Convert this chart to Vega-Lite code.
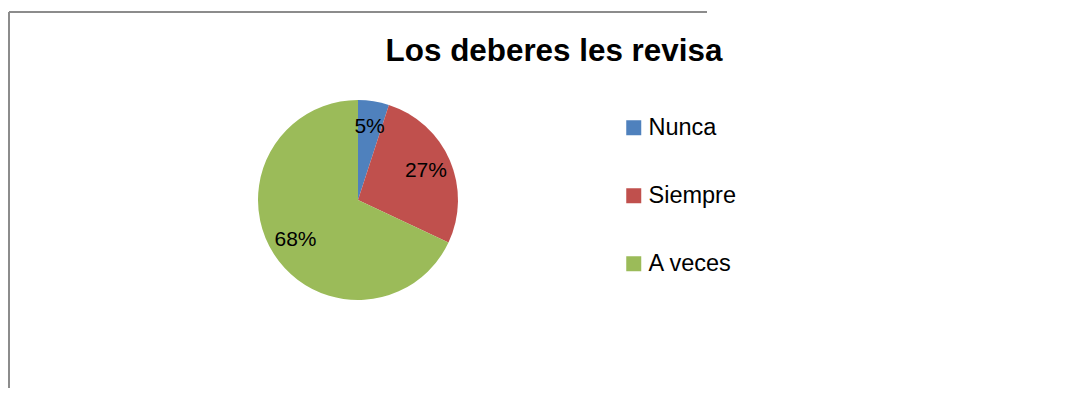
{
  "$schema": "https://vega.github.io/schema/vega-lite/v6.json",
  "width": 698,
  "height": 376,
  "autosize": "none",
  "padding": {"left": 9, "top": 12, "right": 377, "bottom": 15},
  "background": "white",
  "view": {"stroke": "#8c8c8c", "strokeWidth": 2, "strokeDash": [698, 1074, 376, 0]},
  "title": {
    "text": "Los deberes les revisa",
    "font": "Liberation Sans",
    "fontSize": 31.4,
    "fontWeight": "bold",
    "color": "black",
    "anchor": "middle",
    "frame": "group",
    "orient": "top",
    "baseline": "alphabetic",
    "offset": -80,
    "dx": 196
  },
  "data": {
    "values": [
      {"respuesta": "Nunca", "fraccion": 0.05, "orden": 1},
      {"respuesta": "Siempre", "fraccion": 0.27, "orden": 2},
      {"respuesta": "A veces", "fraccion": 0.68, "orden": 3}
    ]
  },
  "encoding": {
    "theta": {"field": "fraccion", "type": "quantitative", "stack": true},
    "order": {"field": "orden", "type": "quantitative"}
  },
  "layer": [
    {
      "mark": {"type": "arc", "outerRadius": 100},
      "encoding": {
        "color": {
          "field": "respuesta",
          "type": "nominal",
          "sort": ["Nunca", "Siempre", "A veces"],
          "scale": {"domain": ["Nunca", "Siempre", "A veces"], "range": ["#4F81BD", "#C0504D", "#9BBB59"]},
          "legend": {
            "title": null,
            "orient": "none",
            "legendX": 613,
            "legendY": 104,
            "padding": 0,
            "symbolType": "square",
            "symbolSize": 225,
            "symbolStrokeWidth": 0,
            "labelFont": "Liberation Sans",
            "labelFontSize": 23.5,
            "labelColor": "black",
            "labelOffset": 3,
            "rowPadding": 43
          }
        }
      }
    },
    {
      "mark": {"type": "text", "radius": 74, "font": "Liberation Sans", "fontSize": 21, "color": "black"},
      "encoding": {
        "text": {"field": "fraccion", "type": "quantitative", "format": ".0%"}
      }
    }
  ]
}
